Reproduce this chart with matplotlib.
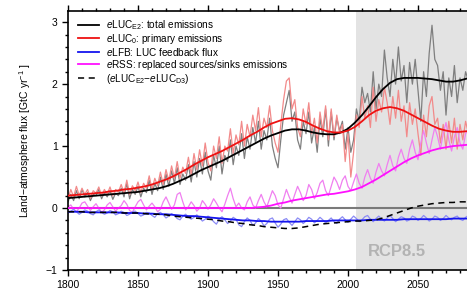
import numpy as np
import matplotlib
matplotlib.use("Agg")
import matplotlib.pyplot as plt
from matplotlib.ticker import MultipleLocator

plt.rcParams['font.family'] = ['Liberation Sans', 'DejaVu Sans']
plt.rcParams['mathtext.fontset'] = 'custom'
plt.rcParams['mathtext.rm'] = 'Liberation Sans'
plt.rcParams['mathtext.it'] = 'Liberation Sans:italic'

# ---- data ----
years_smooth = list(range(1800, 2101, 5))
total_smooth = [0.16, 0.17, 0.18, 0.19, 0.20, 0.21, 0.22, 0.23, 0.24, 0.25,
                0.26, 0.28, 0.30, 0.32, 0.35, 0.39, 0.44, 0.49, 0.55, 0.61,
                0.66, 0.71, 0.76, 0.82, 0.88, 0.94, 1.00, 1.06, 1.12, 1.17,
                1.21, 1.25, 1.27, 1.27, 1.25, 1.22, 1.20, 1.19, 1.19, 1.22,
                1.28, 1.38, 1.50, 1.64, 1.79, 1.92, 2.02, 2.08, 2.10, 2.10,
                2.10, 2.09, 2.08, 2.06, 2.04, 2.04, 2.06, 2.09, 2.11, 2.12, 2.12]
primary_smooth = [0.20, 0.21, 0.22, 0.23, 0.24, 0.25, 0.27, 0.28, 0.30, 0.31,
                  0.33, 0.35, 0.38, 0.42, 0.46, 0.51, 0.57, 0.63, 0.70, 0.76,
                  0.82, 0.87, 0.92, 0.98, 1.04, 1.10, 1.17, 1.23, 1.30, 1.36,
                  1.40, 1.44, 1.45, 1.43, 1.39, 1.33, 1.28, 1.24, 1.22, 1.22,
                  1.25, 1.31, 1.40, 1.50, 1.57, 1.61, 1.63, 1.61, 1.57, 1.51,
                  1.45, 1.39, 1.33, 1.28, 1.25, 1.23, 1.23, 1.24, 1.26, 1.28, 1.30]
feedback_smooth = [-0.06, -0.06, -0.06, -0.07, -0.07, -0.07, -0.07, -0.07, -0.08, -0.08,
                   -0.08, -0.09, -0.09, -0.10, -0.10, -0.11, -0.12, -0.13, -0.13, -0.14,
                   -0.15, -0.16, -0.17, -0.18, -0.19, -0.20, -0.20, -0.21, -0.21, -0.22,
                   -0.22, -0.22, -0.22, -0.22, -0.21, -0.21, -0.21, -0.21, -0.20, -0.20,
                   -0.20, -0.20, -0.20, -0.19, -0.19, -0.19, -0.19, -0.19, -0.18, -0.18,
                   -0.18, -0.18, -0.18, -0.18, -0.18, -0.17, -0.17, -0.17, -0.17, -0.17, -0.17]
rss_smooth = [0.00, 0.00, 0.00, 0.00, 0.00, 0.00, 0.00, 0.00, 0.00, 0.00,
              0.00, 0.00, 0.00, 0.00, 0.00, 0.00, 0.00, 0.00, 0.00, 0.00,
              0.00, 0.00, 0.00, 0.00, 0.00, 0.00, 0.00, 0.01, 0.02, 0.04,
              0.07, 0.09, 0.12, 0.14, 0.16, 0.18, 0.20, 0.22, 0.23, 0.25,
              0.27, 0.30, 0.34, 0.40, 0.46, 0.53, 0.60, 0.67, 0.74, 0.80,
              0.85, 0.89, 0.93, 0.96, 0.98, 1.00, 1.01, 1.02, 1.03, 1.04, 1.05]
diff_smooth = [-0.06, -0.06, -0.06, -0.07, -0.07, -0.07, -0.07, -0.07, -0.08, -0.08,
               -0.08, -0.09, -0.10, -0.10, -0.11, -0.13, -0.14, -0.15, -0.16, -0.17,
               -0.18, -0.19, -0.21, -0.22, -0.24, -0.25, -0.27, -0.28, -0.30, -0.31,
               -0.32, -0.33, -0.33, -0.32, -0.30, -0.28, -0.26, -0.25, -0.24, -0.23,
               -0.22, -0.21, -0.21, -0.20, -0.19, -0.16, -0.12, -0.08, -0.04, 0.00,
               0.03, 0.05, 0.07, 0.08, 0.09, 0.09, 0.10, 0.10, 0.10, 0.11, 0.11]

years_annual = list(range(1800, 2101, 2))
total_noisy = [0.10, 0.22, 0.12, 0.28, 0.15, 0.30, 0.18, 0.25, 0.12, 0.22,
               0.20, 0.30, 0.15, 0.25, 0.18, 0.28, 0.14, 0.24, 0.20, 0.32,
               0.18, 0.40, 0.15, 0.30, 0.22, 0.35, 0.18, 0.32, 0.25, 0.45,
               0.22, 0.40, 0.28, 0.50, 0.30, 0.55, 0.35, 0.60, 0.40, 0.65,
               0.38, 0.55, 0.45, 0.70, 0.42, 0.75, 0.50, 0.80, 0.55, 0.90,
               0.60, 0.45, 0.85, 0.65, 1.00, 0.55, 0.85, 0.75, 1.10, 0.70,
               1.00, 0.85, 1.20, 0.80, 1.15, 0.95, 1.30, 1.05, 1.40, 0.95,
               1.25, 1.10, 1.45, 1.00, 0.80, 0.65, 1.10, 1.50, 1.70, 1.90,
               1.40, 1.55, 1.10, 0.95, 1.40, 1.20, 1.55, 1.05, 1.30, 0.90,
               1.45, 1.15, 1.60, 1.00, 1.55, 1.10, 1.45, 1.25, 1.40, 0.95,
               1.30, 0.90, 1.10, 1.60, 1.40, 1.95, 1.70, 1.85, 1.55, 2.20,
               1.60, 2.00, 1.80, 2.55, 2.10, 1.80, 2.40, 2.00, 2.60, 2.05,
               2.30, 1.70, 2.35, 2.00, 2.40, 1.90, 1.40, 2.20, 1.80, 2.50,
               2.95, 2.40, 2.30, 1.90, 2.20, 1.50, 2.10, 1.80, 2.30, 1.70,
               2.10, 1.90, 2.20, 2.05, 2.15, 2.00, 2.25, 2.00, 2.20, 2.05, 2.10]
primary_noisy = [0.15, 0.30, 0.18, 0.35, 0.20, 0.32, 0.22, 0.30, 0.16, 0.28,
                 0.24, 0.34, 0.20, 0.30, 0.22, 0.34, 0.20, 0.30, 0.26, 0.38,
                 0.24, 0.45, 0.22, 0.36, 0.28, 0.42, 0.25, 0.40, 0.32, 0.52,
                 0.30, 0.48, 0.36, 0.58, 0.38, 0.62, 0.44, 0.68, 0.48, 0.75,
                 0.48, 0.66, 0.56, 0.82, 0.54, 0.88, 0.62, 0.94, 0.68, 1.05,
                 0.74, 0.60, 1.00, 0.80, 1.15, 0.72, 1.00, 0.92, 1.28, 0.88,
                 1.18, 1.02, 1.40, 1.00, 1.35, 1.15, 1.50, 1.25, 1.62, 1.15,
                 1.45, 1.30, 1.65, 1.25, 1.05, 0.90, 1.35, 1.75, 2.05, 2.10,
                 1.60, 1.75, 1.30, 1.15, 1.60, 1.35, 1.70, 1.20, 1.45, 1.05,
                 1.55, 1.25, 1.65, 1.10, 1.60, 1.15, 1.50, 1.20, 1.35, 0.75,
                 1.20, 0.50, 0.90, 1.50, 1.30, 1.80, 1.45, 1.65, 1.30, 1.95,
                 1.40, 1.75, 1.55, 1.95, 1.70, 1.35, 1.80, 1.45, 1.90, 1.40,
                 1.65, 1.15, 1.70, 1.35, 1.60, 1.20, 0.85, 1.50, 1.15, 1.65,
                 1.80, 1.35, 1.45, 1.05, 1.35, 0.95, 1.40, 1.05, 1.45, 0.95,
                 1.35, 1.10, 1.40, 1.20, 1.35, 1.15, 1.40, 1.20, 1.40, 1.25, 1.30]
feedback_noisy = [-0.08, -0.05, -0.02, -0.06, -0.10, -0.07, -0.03, -0.05, -0.09, -0.11,
                  -0.06, -0.03, -0.07, -0.10, -0.08, -0.04, -0.06, -0.11, -0.09, -0.05,
                  -0.07, -0.12, -0.10, -0.06, -0.05, -0.09, -0.13, -0.11, -0.07, -0.08,
                  -0.12, -0.15, -0.09, -0.07, -0.11, -0.16, -0.13, -0.09, -0.12, -0.17,
                  -0.19, -0.13, -0.10, -0.14, -0.18, -0.15, -0.11, -0.16, -0.21, -0.18,
                  -0.13, -0.16, -0.22, -0.26, -0.18, -0.14, -0.19, -0.25, -0.21, -0.15,
                  -0.18, -0.27, -0.30, -0.22, -0.16, -0.20, -0.28, -0.24, -0.17, -0.21,
                  -0.29, -0.25, -0.18, -0.16, -0.24, -0.31, -0.26, -0.19, -0.17, -0.23,
                  -0.28, -0.22, -0.16, -0.19, -0.25, -0.21, -0.15, -0.18, -0.24, -0.20,
                  -0.15, -0.19, -0.24, -0.20, -0.16, -0.22, -0.25, -0.18, -0.14, -0.19,
                  -0.23, -0.18, -0.13, -0.17, -0.22, -0.19, -0.14, -0.12, -0.18, -0.22,
                  -0.17, -0.13, -0.18, -0.21, -0.16, -0.12, -0.17, -0.22, -0.18, -0.14,
                  -0.16, -0.21, -0.19, -0.13, -0.15, -0.20, -0.17, -0.12, -0.16, -0.21,
                  -0.18, -0.13, -0.15, -0.20, -0.17, -0.12, -0.16, -0.19, -0.15, -0.13,
                  -0.18, -0.20, -0.15, -0.12, -0.17, -0.19, -0.14, -0.16, -0.20, -0.15, -0.17]
rss_noisy = [0.02, 0.05, -0.02, -0.06, 0.00, 0.08, 0.10, 0.03, -0.04, 0.02,
             0.07, 0.00, -0.07, -0.03, 0.05, 0.09, 0.02, -0.05, 0.00, 0.04,
             0.12, 0.06, -0.04, -0.07, 0.02, 0.10, 0.14, 0.05, -0.03, 0.03,
             0.08, 0.02, -0.06, -0.02, 0.10, 0.18, 0.08, -0.02, 0.05, 0.22,
             0.25, 0.10, -0.03, 0.02, 0.10, 0.04, -0.05, 0.00, 0.12, 0.06,
             -0.02, 0.05, 0.15, 0.08, 0.00, -0.06, 0.06, 0.20, 0.32, 0.15,
             0.02, 0.08, 0.00, -0.03, 0.10, 0.18, 0.05, 0.00, 0.12, 0.22,
             0.10, 0.02, 0.15, 0.28, 0.20, 0.05, 0.00, 0.15, 0.30, 0.18,
             0.08, 0.22, 0.35, 0.25, 0.12, 0.20, 0.38, 0.30, 0.15, 0.25,
             0.40, 0.45, 0.28, 0.20, 0.35, 0.50, 0.42, 0.30, 0.45, 0.52,
             0.35, 0.28, 0.42, 0.55, 0.40, 0.32, 0.50, 0.62, 0.48, 0.40,
             0.58, 0.72, 0.60, 0.52, 0.70, 0.85, 0.68, 0.60, 0.82, 0.95,
             0.80, 0.72, 0.95, 1.10, 0.90, 0.78, 1.05, 1.25, 1.05, 0.88,
             1.10, 1.30, 1.15, 0.95, 1.20, 1.38, 1.10, 0.92, 1.15, 1.30,
             1.05, 0.95, 1.20, 1.28, 1.05, 0.98, 1.15, 1.22, 1.05, 1.00, 1.12]

xticks = [1800, 1850, 1900, 1950, 2000, 2050]
yticks = [-1, 0, 1, 2, 3]
scenario_start = 2006
labels = [r'$e$LUC$_{\mathrm{E2}}$: total emissions',
          r'$e$LUC$_{\mathrm{0}}$: primary emissions',
          r'$e$LFB: LUC feedback flux',
          r'$e$RSS: replaced sources/sinks emissions',
          r'($e$LUC$_{\mathrm{E2}}$$-$$e$LUC$_{\mathrm{D3}}$)']

# ---- figure ----
W, H = 467, 307
fig = plt.figure(figsize=(W / 100, H / 100), dpi=100)
ax = fig.add_axes([68 / W, (H - 270) / H, 420 / W, 259 / H])

ax.axvspan(scenario_start, 2100, color='#e3e3e3', lw=0, zorder=0)
ax.axhline(0, color='#7a7a7a', lw=1.5, zorder=1)

ax.plot(years_annual, total_noisy, color='#7f7f7f', lw=0.9, zorder=2)
ax.plot(years_annual, primary_noisy, color='#f28a8a', lw=0.9, zorder=2)
ax.plot(years_annual, rss_noisy, color='#f07ff0', lw=0.9, zorder=2)
ax.plot(years_annual, feedback_noisy, color='#8c8cf5', lw=0.9, zorder=2)

h1, = ax.plot(years_smooth, total_smooth, color='black', lw=1.3, zorder=3)
h2, = ax.plot(years_smooth, primary_smooth, color='#ee1111', lw=1.3, zorder=3)
h3, = ax.plot(years_smooth, feedback_smooth, color='#1515ee', lw=1.3, zorder=3)
h4, = ax.plot(years_smooth, rss_smooth, color='#ff10ff', lw=1.3, zorder=3)
h5, = ax.plot(years_smooth, diff_smooth, color='black', lw=1.1, ls=(0, (4, 3)), zorder=3)

ax.text(2035, -0.7, 'RCP8.5', color='#b3b3b3', fontsize=12, fontweight='bold',
        ha='center', va='center')

ax.set_xlim(1800, 2100)
ax.set_ylim(-1, 3.18)
ax.set_xticks(xticks)
ax.set_yticks(yticks)
ax.xaxis.set_minor_locator(MultipleLocator(10))
ax.yaxis.set_minor_locator(MultipleLocator(0.2))
ax.tick_params(which='both', direction='out', top=True, right=True,
               labelsize=7.5, width=1.0)
ax.tick_params(which='major', length=4)
ax.tick_params(which='minor', length=2)
for s in ax.spines.values():
    s.set_linewidth(1.2)

ax.set_ylabel(r'Land$-$atmosphere flux [GtC yr$^{-1}$ ]', fontsize=7.5, labelpad=9)

leg = ax.legend([h1, h2, h3, h4, h5], labels, loc='upper left', frameon=False,
                fontsize=7.2, handlelength=2.1, handletextpad=0.7,
                labelspacing=0.0, borderaxespad=0.3, bbox_to_anchor=(0.008, 1.0))

fig.savefig('out.png', dpi=100)
